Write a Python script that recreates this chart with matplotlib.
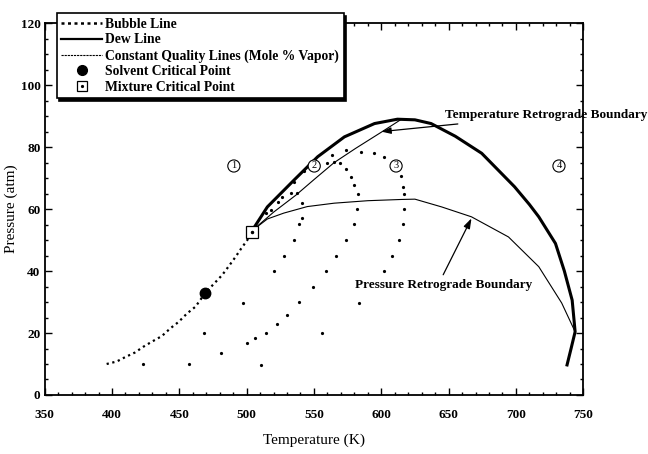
"""
Phase envelope with retrograde boundaries
"""
import matplotlib
matplotlib.use("Agg")
import matplotlib.pyplot as plt
from matplotlib.lines import Line2D
from matplotlib.legend_handler import HandlerTuple
from matplotlib.ticker import MultipleLocator

plt.rcParams["font.family"] = ["Liberation Serif", "DejaVu Serif"]
plt.rcParams["font.weight"] = "bold"

# bubble line (K, atm)
bubble_T = [396, 403.5, 409.7, 417, 423.4, 429.6, 437, 443.3, 449.5, 455.7, 462, 469.4, 475.5, 481.8, 486.8, 491.8, 496, 500.5, 504]
bubble_P = [10, 10.8, 12.2, 13.7, 15.6, 17.2, 19, 21.5, 23.6, 26.3, 28.5, 33, 35.8, 38.7, 41.6, 44.6, 47.3, 50, 53]

# dew line
dew_T = [504, 515.4, 535.3, 552.8, 572.6, 595, 612, 625, 637, 655, 674.6, 699, 710, 717, 729.4, 736, 741.8, 744, 741, 738]
dew_P = [53, 60.7, 69.4, 76.9, 83.3, 87.6, 89, 88.8, 87.6, 83.5, 78, 67.2, 61.5, 57.5, 48.9, 40, 30.6, 20.4, 15, 9.7]

# temperature retrograde boundary
tret_T = [504, 520, 536.6, 550, 565, 581, 600, 615]
tret_P = [53, 59, 64.5, 69.5, 75, 79.6, 84.8, 89]

# pressure retrograde boundary
pret_T = [504, 515.4, 527.6, 545, 565, 590, 615, 625, 644.8, 667, 694.5, 717, 734, 744]
pret_P = [53, 56.8, 58.7, 60.8, 61.9, 62.7, 63.1, 63.2, 60.7, 57.5, 51, 41.4, 29.7, 20.4]

# constant quality lines (dots only)
q1_T = [423, 468, 497.5, 520, 527.4, 535.3, 539, 541, 541, 537.5, 533, 526.6, 523, 518, 514.2]
q1_P = [10, 20.1, 29.8, 40.1, 44.9, 50, 55.2, 57, 62, 65.1, 65.1, 64, 62.4, 59.7, 58.6]
q2_T = [457, 480.6, 500, 506.2, 514.2, 522.4, 529.9, 538.6, 549, 559, 566.4, 573.9, 579.4, 582, 582.6,
        580, 577.6, 574, 569, 565, 560, 542.8, 535.3]
q2_P = [9.9, 13.4, 16.7, 18.5, 20.1, 22.9, 25.8, 30.1, 34.9, 40.1, 44.9, 50, 55.2, 59.9, 65,
        67.7, 70.5, 72.8, 75, 75.2, 75, 72.2, 68.8]
q3_T = [510.5, 555.8, 583.8, 602.3, 608.2, 613.5, 616, 617, 617, 616.2, 614.4, 602, 594.5, 585, 574, 563.4]
q3_P = [9.7, 20.1, 29.8, 40.1, 44.9, 50, 55.2, 59.9, 64.8, 67, 70.6, 76.7, 78, 78.5, 79, 77.4]

solvent_cp = (469.4, 33)
mixture_cp = (503.7, 52.7)

regions = ["1", "2", "3", "4"]
region_T = [490.5, 550.2, 611, 732]
region_P = [73.9, 73.9, 73.9, 73.9]

fig = plt.figure(figsize=(6.48, 4.54), dpi=100)
ax = fig.add_axes([0.069, 0.130, 0.831, 0.819])

ax.plot(bubble_T, bubble_P, color="black", lw=1.6, ls=(0, (1.0, 1.6)))
ax.plot(dew_T, dew_P, color="black", lw=2.2, solid_joinstyle="round")
ax.plot(tret_T, tret_P, color="black", lw=0.8)
ax.plot(pret_T, pret_P, color="black", lw=0.8)
for qT, qP in [(q1_T, q1_P), (q2_T, q2_P), (q3_T, q3_P)]:
    ax.plot(qT, qP, ls="none", marker="o", ms=2.3, color="black", mew=0)

ax.plot(*solvent_cp, marker="o", ms=7.5, color="black", zorder=5)
ax.plot(*mixture_cp, marker="s", ms=8, mfc="white", mec="black", mew=0.9, zorder=5)
ax.plot(*mixture_cp, marker="o", ms=1.5, color="black", zorder=6)

for lab, t, p in zip(regions, region_T, region_P):
    ax.text(t, p, lab, fontsize=7.5, fontweight="normal", ha="center", va="center",
            bbox=dict(boxstyle="circle,pad=0.15", fc="white", ec="black", lw=0.8))

arrow = dict(arrowstyle="-|>,head_length=0.6,head_width=0.2", color="black", lw=0.9,
             shrinkA=0, shrinkB=0)
ax.annotate("Temperature Retrograde Boundary", xy=(600, 85), xytext=(647, 90.3),
            fontsize=9.5, ha="left", va="center", arrowprops=arrow, annotation_clip=False)
ax.annotate("", xy=(667, 57), xytext=(646, 38.8), arrowprops=arrow)
ax.text(646, 35.5, "Pressure Retrograde Boundary", fontsize=9.5, ha="center", va="center")

ax.set_xlim(350, 750)
ax.set_ylim(0, 120)
ax.xaxis.set_major_locator(MultipleLocator(50))
ax.xaxis.set_minor_locator(MultipleLocator(10))
ax.yaxis.set_major_locator(MultipleLocator(20))
ax.yaxis.set_minor_locator(MultipleLocator(5))
ax.tick_params(which="both", direction="in", top=True, right=True, labelsize=9.5, width=1)
ax.tick_params(which="major", length=5)
ax.tick_params(which="minor", length=2.5)
ax.tick_params(axis="x", pad=10)
ax.tick_params(axis="y", pad=3)
for s in ax.spines.values():
    s.set_linewidth(1.3)

ax.set_xlabel("Temperature (K)", fontsize=11, labelpad=9)
ax.set_ylabel("Pressure (atm)", fontsize=11, labelpad=2)

handles = [
    Line2D([], [], color="black", lw=1.8, ls=(0, (1.2, 1.4))),
    Line2D([], [], color="black", lw=1.6),
    Line2D([], [], color="black", lw=0.8, ls=(0, (2, 0.8))),
    Line2D([], [], ls="none", marker="o", ms=7, color="black"),
    (Line2D([], [], ls="none", marker="s", ms=7, mfc="white", mec="black", mew=0.9),
     Line2D([], [], ls="none", marker="o", ms=1.3, color="black")),
]
labels = ["Bubble Line", "Dew Line", "Constant Quality Lines (Mole % Vapor)",
          "Solvent Critical Point", "Mixture Critical Point"]
leg = ax.legend(handles, labels, loc="upper left", bbox_to_anchor=(0.022, 1.027),
                borderaxespad=0, fontsize=9.8, fancybox=False, framealpha=1,
                edgecolor="black", handlelength=3.0, handletextpad=0.2,
                labelspacing=0.19, borderpad=0.35, numpoints=1,
                shadow={"color": "black", "alpha": 1},
                handler_map={tuple: HandlerTuple(ndivide=1, pad=0)})
leg.get_frame().set_linewidth(1.2)

fig.savefig("out.png", dpi=100)
